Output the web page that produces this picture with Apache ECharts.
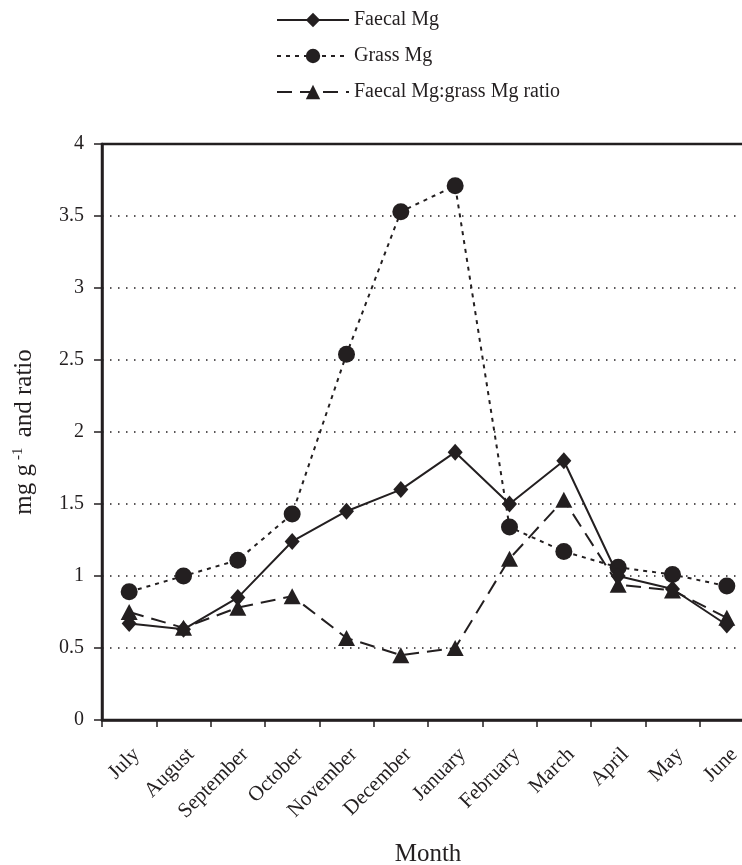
<!DOCTYPE html>
<html>
<head>
<meta charset="utf-8">
<script src="https://cdn.jsdelivr.net/npm/echarts@6/dist/echarts.min.js"></script>
<style>html,body{margin:0;padding:0;background:#fff;}#c{width:742px;height:865px;}</style>
</head>
<body>
<div id="c"></div>
<script>
var months = ['July','August','September','October','November','December','January','February','March','April','May','June'];
var faecalMg = [0.67, 0.63, 0.85, 1.24, 1.45, 1.60, 1.86, 1.50, 1.80, 1.00, 0.91, 0.66];
var grassMg = [0.89, 1.00, 1.11, 1.43, 2.54, 3.53, 3.71, 1.34, 1.17, 1.06, 1.01, 0.93];
var ratio = [0.75, 0.64, 0.78, 0.86, 0.57, 0.45, 0.50, 1.12, 1.53, 0.94, 0.90, 0.71];
var yTicks = [0, 0.5, 1, 1.5, 2, 2.5, 3, 3.5, 4];

var ink = '#231f20';
var font = '"Liberation Serif", "Times New Roman", serif';
var chart = echarts.init(document.getElementById('c'), null, {renderer: 'canvas'});
chart.setOption({
  animation: false,
  textStyle: {fontFamily: font, color: ink},
  legend: {
    orient: 'vertical',
    left: 271,
    top: 5,
    itemWidth: 72,
    itemHeight: 18,
    itemGap: 16,
    textStyle: {fontFamily: font, fontSize: 20, color: ink},
    data: ['Faecal Mg', 'Grass Mg', 'Faecal Mg:grass Mg ratio']
  },
  grid: {left: 102, top: 144, width: 652, height: 576, outerBoundsMode: 'none', show: true, borderColor: ink, borderWidth: 2.5, containLabel: false},
  xAxis: {
    type: 'category',
    data: months,
    boundaryGap: true,
    name: 'Month',
    nameLocation: 'middle',
    nameGap: 122,
    nameTextStyle: {fontFamily: font, fontSize: 25, color: ink},
    axisLine: {lineStyle: {color: ink, width: 2.5}},
    axisTick: {show: true, length: 7, lineStyle: {color: ink, width: 1.5}},
    axisLabel: {rotate: 45, margin: 24, fontFamily: font, fontSize: 21, color: ink, interval: 0, verticalAlign: 'top'},
    splitLine: {show: false}
  },
  yAxis: {
    type: 'value',
    min: yTicks[0],
    max: yTicks[yTicks.length - 1],
    interval: 0.5,
    name: '{a|mg g}{s|-1}{a| and ratio}',
    nameLocation: 'middle',
    nameGap: 64,
    nameRotate: 90,
    nameTextStyle: {
      fontFamily: font, fontSize: 25, color: ink,
      rich: {
        a: {fontFamily: font, fontSize: 25, color: ink, lineHeight: 27},
        s: {fontFamily: font, fontSize: 15, color: ink, verticalAlign: 'top', lineHeight: 15, padding: [0, 4, 0, 4]}
      }
    },
    axisLine: {show: true, lineStyle: {color: ink, width: 2.5}},
    axisTick: {show: true, length: 8, lineStyle: {color: ink, width: 1.5}},
    axisLabel: {margin: 18, fontFamily: font, fontSize: 20, color: ink},
    splitLine: {show: true, lineStyle: {color: ink, width: 1.5, type: [1.5, 6.5]}}
  },
  series: [
    {
      name: 'Faecal Mg', type: 'line', data: faecalMg,
      symbol: 'diamond', symbolSize: [15, 17],
      lineStyle: {color: ink, width: 2, type: 'solid'},
      itemStyle: {color: ink}, z: 4
    },
    {
      name: 'Grass Mg', type: 'line', data: grassMg,
      symbol: 'circle', symbolSize: 17,
      lineStyle: {color: ink, width: 2, type: [4, 5]},
      itemStyle: {color: ink}, z: 3
    },
    {
      name: 'Faecal Mg:grass Mg ratio', type: 'line', data: ratio,
      symbol: 'triangle', symbolSize: [17, 16],
      lineStyle: {color: ink, width: 2, type: [15, 8]},
      itemStyle: {color: ink}, z: 2
    }
  ]
});
</script>
</body>
</html>
